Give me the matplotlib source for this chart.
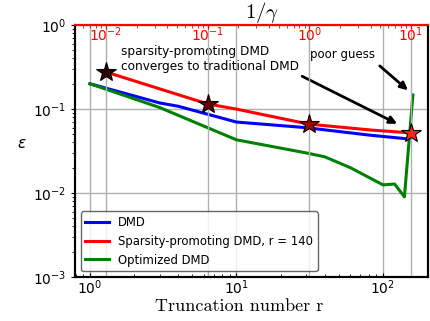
import numpy as np
import matplotlib.pyplot as plt

# truncation number r vs error
r_dmd = [1, 3, 4, 10, 30, 80, 150]
err_dmd = [0.2, 0.118, 0.108, 0.070, 0.060, 0.049, 0.044]

r_opt = [1, 3, 10, 30, 40, 60, 100, 120, 140, 160]
err_opt = [0.2, 0.104, 0.043, 0.030, 0.027, 0.020, 0.0125, 0.0128, 0.009, 0.147]

# sparsity-promoting DMD vs 1/gamma (top axis)
inv_gamma = [0.01, 0.1, 0.19, 1, 4.2, 10]
err_sp = [0.276, 0.115, 0.100, 0.066, 0.056, 0.052]
star_gamma = [0.01, 0.1, 1, 10]
star_err = [0.276, 0.115, 0.066, 0.052]
star_colors = ['#300000', '#600000', '#a00000', '#ff2020']

fig = plt.figure(figsize=(4.3, 3.21), dpi=100)
ax = fig.add_axes([0.1744, 0.137, 0.8209, 0.785])

ax.plot(r_dmd, err_dmd, color='b', lw=2.2, label='DMD')
ax.plot(r_opt, err_opt, color='g', lw=2.2, label='Optimized DMD')
ax.set_xscale('log')
ax.set_yscale('log')
ax.set_xlim(10 ** -0.102, 10 ** 2.307)
ax.set_ylim(1e-3, 1)
ax.grid(True, which='major', color='#b0b0b0', lw=1)
ax.tick_params(which='major', length=3, labelsize=10)
ax.tick_params(which='minor', length=2)
ax.tick_params(axis='x', which='both', direction='in', pad=1)
ax.set_xlabel('Truncation number r', family='cmr10', fontsize=13)
ax.xaxis.set_label_coords(0.465, -0.085)
ax.set_ylabel(r'$\epsilon$', fontsize=11, rotation=0, labelpad=8,
              math_fontfamily='dejavusans')
for s in ax.spines.values():
    s.set_linewidth(1.5)

ax2 = ax.twiny()
ax2.set_xscale('log')
ax2.set_xlim(10 ** -2.305, 10 ** 1.167)
line_sp, = ax2.plot(inv_gamma, err_sp, color='r', lw=2.2,
                    label='Sparsity-promoting DMD, r = 140')
for g, e, c in zip(star_gamma, star_err, star_colors):
    ax2.plot(g, e, marker='*', ms=15, color=c, mec='k', mew=0.8, ls='none')
ax2.grid(True, which='major', axis='x', color='#b0b0b0', lw=1)
ax2.tick_params(axis='x', which='both', direction='in', colors='r',
                labelsize=10, pad=-14)
ax2.tick_params(axis='x', which='major', length=3)
ax2.tick_params(axis='x', which='minor', length=2)
for s in ax2.spines.values():
    s.set_linewidth(1.5)
ax2.spines['top'].set_color('r')
ax2.set_title(r'$1/\gamma$', fontsize=15, x=0.53, pad=4, math_fontfamily='cm')

ax.text(1.63, 0.394, 'sparsity-promoting DMD\nconverges to traditional DMD',
        fontsize=8.7, va='center', ha='left')
ax.annotate('', xy=(130, 0.0645), xytext=(27, 0.254),
            arrowprops=dict(arrowstyle='-|>', color='k', lw=2, mutation_scale=11))
ax.text(31.7, 0.44, 'poor guess', fontsize=8.5, va='center', ha='left')
ax.annotate('', xy=(153, 0.159), xytext=(92, 0.343),
            arrowprops=dict(arrowstyle='-|>', color='k', lw=2, mutation_scale=11))

h1, l1 = ax.get_legend_handles_labels()
handles = [h1[0], line_sp, h1[1]]
labels = [l1[0], line_sp.get_label(), l1[1]]
leg = ax2.legend(handles, labels, loc='lower left', fontsize=8.4)
leg.get_frame().set_edgecolor('0.25')

fig.savefig('out.png', dpi=100)
